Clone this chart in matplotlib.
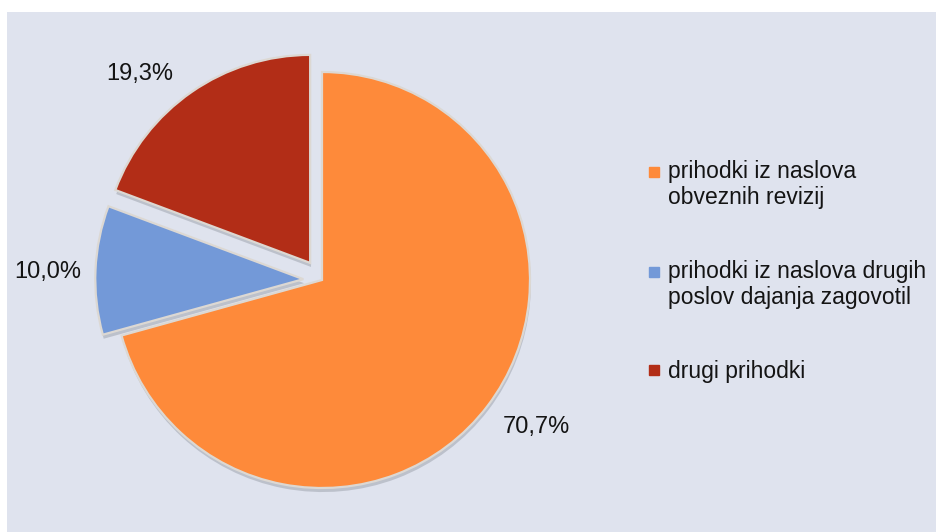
import matplotlib.pyplot as plt
from matplotlib.lines import Line2D
from matplotlib.patches import Rectangle
from matplotlib.legend_handler import HandlerLine2D
from matplotlib.transforms import Affine2D

plt.rcParams['font.family'] = ['Liberation Sans', 'DejaVu Sans']

# podatki
kategorije = ['prihodki iz naslova\nobveznih revizij',
              'prihodki iz naslova drugih\nposlov dajanja zagovotil',
              'drugi prihodki']
delezi = [70.7, 10.0, 19.3]
oznake = ['70,7%', '10,0%', '19,3%']
barve = ['#fe8a3a', '#7399d8', '#b22d17']
razmik = [0, 0.09, 0.1]
# popravki polozaja oznak (v pikslih, x desno, y gor)
premiki = [(7, 10), (4, -4), (-22, -25)]


# kvadratek legende poravnan s prvo vrstico besedila
class PrvaVrsta(HandlerLine2D):
    def __init__(self, premik=0.0, **kw):
        super().__init__(**kw)
        self.premik = premik

    def create_artists(self, legend, orig_handle, xdescent, ydescent,
                       width, height, fontsize, trans):
        t = Affine2D().translate(0, self.premik * fontsize) + trans
        return super().create_artists(legend, orig_handle, xdescent, ydescent,
                                      width, height, fontsize, t)


fig = plt.figure(figsize=(9.36, 5.32), dpi=100)
fig.patch.set_facecolor('white')

ax = fig.add_axes([0, 0, 1, 1])
ax.set_zorder(1)
# sivo-modro ozadje, zgoraj in levo bel rob
ax.add_patch(Rectangle((7/936, 0), 1, 1 - 12/532, transform=fig.transFigure,
                       facecolor='#dfe3ee', edgecolor='none', zorder=-5, clip_on=False))

wedges, texts = ax.pie(delezi, labels=oznake, colors=barve, explode=razmik,
                       startangle=90, counterclock=False, labeldistance=1.25,
                       wedgeprops=dict(edgecolor='#dcd8d3', linewidth=1.6),
                       shadow=dict(ox=0.003, oy=-0.014, facecolor='#7d828c',
                                   edgecolor='none', alpha=0.35))
r = 208
for t, (dx, dy) in zip(texts, premiki):
    x, y = t.get_position()
    t.set_position((x + dx / r, y + dy / r))
    t.set_ha('center')
    t.set_va('center')
    t.set_fontsize(17)
    t.set_color('#141414')

ax.set_xlim(-322/r, (936-322)/r)
ax.set_ylim(-(532-280)/r, 280/r)
ax.set_aspect('auto')
ax.set_facecolor('none')
ax.axis('off')

handles = [Line2D([], [], marker='s', linestyle='none', markersize=6.5,
                  markerfacecolor=c, markeredgecolor=c) for c in barve]
hmap = {h: PrvaVrsta(0.6 if '\n' in k else 0.0) for h, k in zip(handles, kategorije)}
leg = ax.legend(handles, kategorije, loc='upper left', handler_map=hmap,
                bbox_to_anchor=(626/936, 1 - 139/532), bbox_transform=fig.transFigure,
                frameon=False, fontsize=16.5, handlelength=0.6, handletextpad=0.35,
                labelspacing=2.2, labelcolor='#141414')

fig.savefig('out.png', dpi=100)
